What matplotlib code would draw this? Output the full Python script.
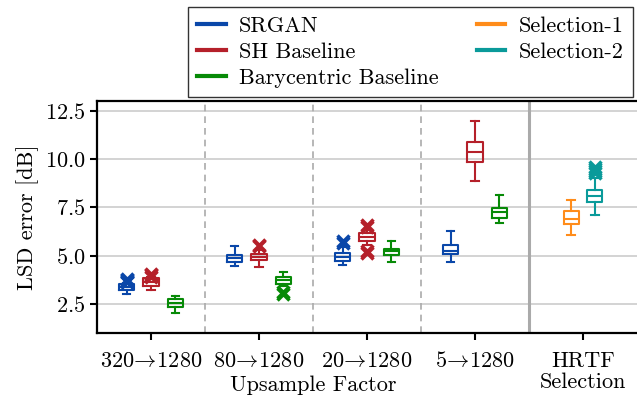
import matplotlib
matplotlib.use('Agg')
import matplotlib.pyplot as plt
from matplotlib.lines import Line2D

plt.rcParams['font.family'] = ['cmr10', 'DejaVu Serif']
plt.rcParams['mathtext.fontset'] = 'cm'
plt.rcParams['axes.formatter.use_mathtext'] = True
plt.rcParams['font.size'] = 16

# group labels
groups = ['$320\\!\\rightarrow\\!1280$', '$80\\!\\rightarrow\\!1280$', '$20\\!\\rightarrow\\!1280$',
          '$5\\!\\rightarrow\\!1280$', 'HRTF\nSelection']

# box stats per group: [whislo, q1, med, q3, whishi]
srgan = [[3.02, 3.22, 3.38, 3.52, 3.6], [4.48, 4.66, 4.86, 5.05, 5.48],
         [4.52, 4.74, 4.94, 5.15, 5.45], [4.67, 5.07, 5.23, 5.56, 6.28]]
srgan_fliers = [[3.62, 3.66, 3.7, 3.74, 3.8], [], [5.65, 5.74], []]

sh = [[3.2, 3.45, 3.62, 3.82, 3.88], [4.42, 4.77, 4.93, 5.08, 5.3],
      [5.55, 5.76, 5.96, 6.16, 6.35], [8.85, 9.86, 10.36, 10.9, 11.95]]
sh_fliers = [[3.92, 3.98, 4.04], [5.5, 5.56], [6.5, 6.6, 5.15, 5.25], []]

bary = [[2.05, 2.37, 2.53, 2.74, 2.92], [3.45, 3.54, 3.73, 3.88, 4.15],
        [4.68, 5.04, 5.23, 5.36, 5.77], [6.7, 6.96, 7.25, 7.48, 8.13]]
bary_fliers = [[], [3.04, 3.14], [], []]

sel1 = [6.08, 6.66, 6.9, 7.33, 7.87]
sel1_fliers = []
sel2 = [7.08, 7.78, 8.1, 8.4, 9.0]
sel2_fliers = [9.3, 9.4, 9.5, 9.6]

colors = {'SRGAN': '#0a47a9', 'SH Baseline': '#b5202a', 'Barycentric Baseline': '#078a07',
          'Selection-1': '#ff8c1a', 'Selection-2': '#0a9a9a'}


def stats(vals, fl):
    return dict(whislo=vals[0], q1=vals[1], med=vals[2], q3=vals[3], whishi=vals[4], fliers=fl)


def draw(ax, stat_list, pos, color):
    lp = dict(color=color, linewidth=1.5)
    ax.bxp(stat_list, positions=pos, widths=0.14, showfliers=True,
           boxprops=lp, medianprops=lp, whiskerprops=lp, capprops=lp,
           flierprops=dict(marker='x', markeredgecolor=color, markersize=9,
                           markeredgewidth=2.5, linestyle='none'),
           manage_ticks=False, zorder=3)


fig = plt.figure(figsize=(6.37, 4.0), dpi=100)
ax = fig.add_axes([97 / 637, 67 / 400, 540 / 637, 232 / 400])

off = 0.225
draw(ax, [stats(s, f) for s, f in zip(srgan, srgan_fliers)], [i - off for i in range(4)], colors['SRGAN'])
draw(ax, [stats(s, f) for s, f in zip(sh, sh_fliers)], [i for i in range(4)], colors['SH Baseline'])
draw(ax, [stats(s, f) for s, f in zip(bary, bary_fliers)], [i + off for i in range(4)], colors['Barycentric Baseline'])
draw(ax, [stats(sel1, sel1_fliers)], [4 - 0.11], colors['Selection-1'])
draw(ax, [stats(sel2, sel2_fliers)], [4 + 0.11], colors['Selection-2'])

for xs in [0.5, 1.5, 2.5]:
    ax.axvline(xs, color='#aaaaaa', linestyle=(0, (4, 3)), linewidth=1.2, zorder=1)
ax.axvline(3.5, color='#aaaaaa', linewidth=2.2, zorder=1)

ax.set_xlim(-0.5, 4.5)
ax.set_ylim(1.0, 13.0)
ax.set_yticks([2.5, 5.0, 7.5, 10.0, 12.5])
ax.yaxis.grid(True, color='#cccccc', linewidth=1.2, zorder=0)
ax.set_axisbelow(True)
ax.set_xticks(range(5))
ax.set_xticklabels(groups, linespacing=1.15)
ax.set_ylabel('LSD error [dB]')
ax.text(1.5, -0.185, 'Upsample Factor', transform=ax.get_xaxis_transform(),
        ha='center', va='top')

ax.spines['right'].set_visible(False)
for s in ['left', 'bottom', 'top']:
    ax.spines[s].set_linewidth(1.6)
ax.tick_params(width=1.5, length=5)
ax.tick_params(axis='x', pad=8)

handles = [Line2D([], [], color=c, linewidth=3) for c in colors.values()]
labels = list(colors.keys())
leg = fig.legend(handles, labels, ncol=2,
                 loc='lower left', bbox_to_anchor=(188 / 637, 1 - 97 / 400),
                 fancybox=False, edgecolor='#333333', framealpha=1,
                 handlelength=1.3, handletextpad=0.6, columnspacing=1.7,
                 labelspacing=0.3, borderaxespad=0)
leg.get_frame().set_linewidth(1.0)

fig.savefig('out.png', dpi=100)
